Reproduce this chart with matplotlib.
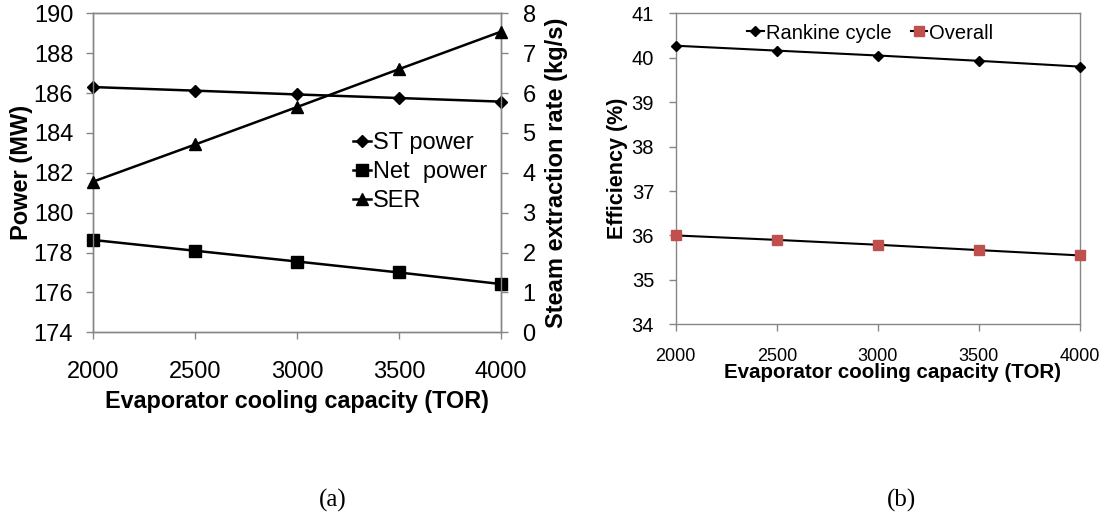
import matplotlib
matplotlib.use('Agg')
import matplotlib.pyplot as plt
from matplotlib.ticker import MultipleLocator

# ---- data ----
capacity = [2000, 2500, 3000, 3500, 4000]
st_power = [186.30, 186.12, 185.93, 185.75, 185.57]
net_power = [178.63, 178.09, 177.55, 177.00, 176.42]
ser = [3.78, 4.71, 5.65, 6.60, 7.54]
rankine_eff = [40.27, 40.16, 40.05, 39.93, 39.80]
overall_eff = [36.00, 35.90, 35.79, 35.67, 35.55]

left_labels = ["ST power", "Net  power", "SER"]
right_labels = ["Rankine cycle", "Overall"]

plt.rcParams['font.family'] = ['Liberation Sans', 'DejaVu Sans']
GRAY = '#868686'
W, H = 1105, 528
fig = plt.figure(figsize=(W / 100, H / 100), dpi=100)


def px_axes(x0, x1, ytop, ybot):
    return fig.add_axes([x0 / W, 1 - ybot / H, (x1 - x0) / W, (ybot - ytop) / H])


def style(ax, fs, padx, pady):
    for s in ax.spines.values():
        s.set_color(GRAY)
        s.set_linewidth(1.0)
    ax.tick_params(axis='both', direction='out', color=GRAY, length=5, width=1.0,
                   labelsize=fs, labelcolor='black')
    ax.tick_params(axis='x', pad=padx)
    ax.tick_params(axis='y', pad=pady)


# ---- panel (a) ----
A_X0, A_X1, A_Y0, A_Y1 = 93.3, 501, 13.3, 332.3
aw, ah = A_X1 - A_X0, A_Y1 - A_Y0
ax1 = px_axes(A_X0, A_X1, A_Y0, A_Y1)
ax1r = ax1.twinx()
l1, = ax1.plot(capacity, st_power, color='black', lw=1.8, marker='D', ms=6.5, clip_on=False, zorder=3)
l2, = ax1.plot(capacity, net_power, color='black', lw=1.8, marker='s', ms=8, clip_on=False, zorder=3)
l3, = ax1r.plot(capacity, ser, color='black', lw=1.8, marker='^', ms=8, clip_on=False, zorder=3)
ax1.set_xlim(2000, 4000)
ax1.set_ylim(174, 190)
ax1r.set_ylim(0, 8)
ax1.xaxis.set_major_locator(MultipleLocator(500))
ax1.yaxis.set_major_locator(MultipleLocator(2))
ax1r.yaxis.set_major_locator(MultipleLocator(1))
style(ax1, 17, 16, 9.5)
style(ax1r, 17, 16, 10.5)
ax1.set_xlabel("Evaporator cooling capacity (TOR)", fontsize=16.8, fontweight='bold')
ax1.xaxis.set_label_coords(0.5, -(390 - A_Y1) / ah)
ax1.set_ylabel("Power (MW)", fontsize=17, fontweight='bold')
ax1.yaxis.set_label_coords(-(A_X0 - 33) / aw, 0.5)
ax1r.set_ylabel("Steam extraction rate (kg/s)", fontsize=17, fontweight='bold')
ax1r.yaxis.set_label_coords(1 + (545 - A_X1) / aw, 0.5)
ax1r.legend([l1, l2, l3], left_labels, loc='center left',
            bbox_to_anchor=((353 - A_X0) / aw, 1 - (172 - A_Y0) / ah),
            frameon=False, fontsize=17, handlelength=0.75, handletextpad=0.1,
            labelspacing=0.3, borderpad=0, borderaxespad=0)

# ---- panel (b) ----
B_X0, B_X1, B_Y0, B_Y1 = 675.7, 1080, 13.3, 324.3
bw, bh = B_X1 - B_X0, B_Y1 - B_Y0
ax2 = px_axes(B_X0, B_X1, B_Y0, B_Y1)
m1, = ax2.plot(capacity, rankine_eff, color='black', lw=1.5, marker='D', ms=5.5, clip_on=False, zorder=3)
m2, = ax2.plot(capacity, overall_eff, color='black', lw=1.5, marker='s', ms=7,
               mfc='#C0504D', mec='#C0504D', clip_on=False, zorder=3)
ax2.set_xlim(2000, 4000)
ax2.set_ylim(34, 41)
ax2.xaxis.set_major_locator(MultipleLocator(500))
ax2.yaxis.set_major_locator(MultipleLocator(1))
style(ax2, 14.5, 12, 10.5)
ax2.tick_params(axis='x', labelsize=13)
ax2.set_xlabel("Evaporator cooling capacity (TOR)", fontsize=14.8, fontweight='bold')
ax2.xaxis.set_label_coords((892 - B_X0) / bw, -(363 - B_Y1) / bh)
ax2.set_ylabel("Efficiency (%)", fontsize=15.5, fontweight='bold')
ax2.yaxis.set_label_coords(-(B_X0 - 628) / bw, 0.5)
ax2.legend([m1, m2], right_labels, loc='center', ncol=2,
           bbox_to_anchor=((870.5 - B_X0) / bw, 1 - (33 - B_Y0) / bh),
           frameon=False, fontsize=14.5, handlelength=0.8, handletextpad=0.1,
           columnspacing=1.0, borderpad=0, borderaxespad=0)

# ---- captions ----
fig.text(333 / W, 1 - 500 / H, "(a)", fontsize=18, family=['Liberation Serif', 'DejaVu Serif'],
         ha='center', va='center')
fig.text(901 / W, 1 - 500 / H, "(b)", fontsize=18, family=['Liberation Serif', 'DejaVu Serif'],
         ha='center', va='center')

fig.savefig('out.png', dpi=100)
